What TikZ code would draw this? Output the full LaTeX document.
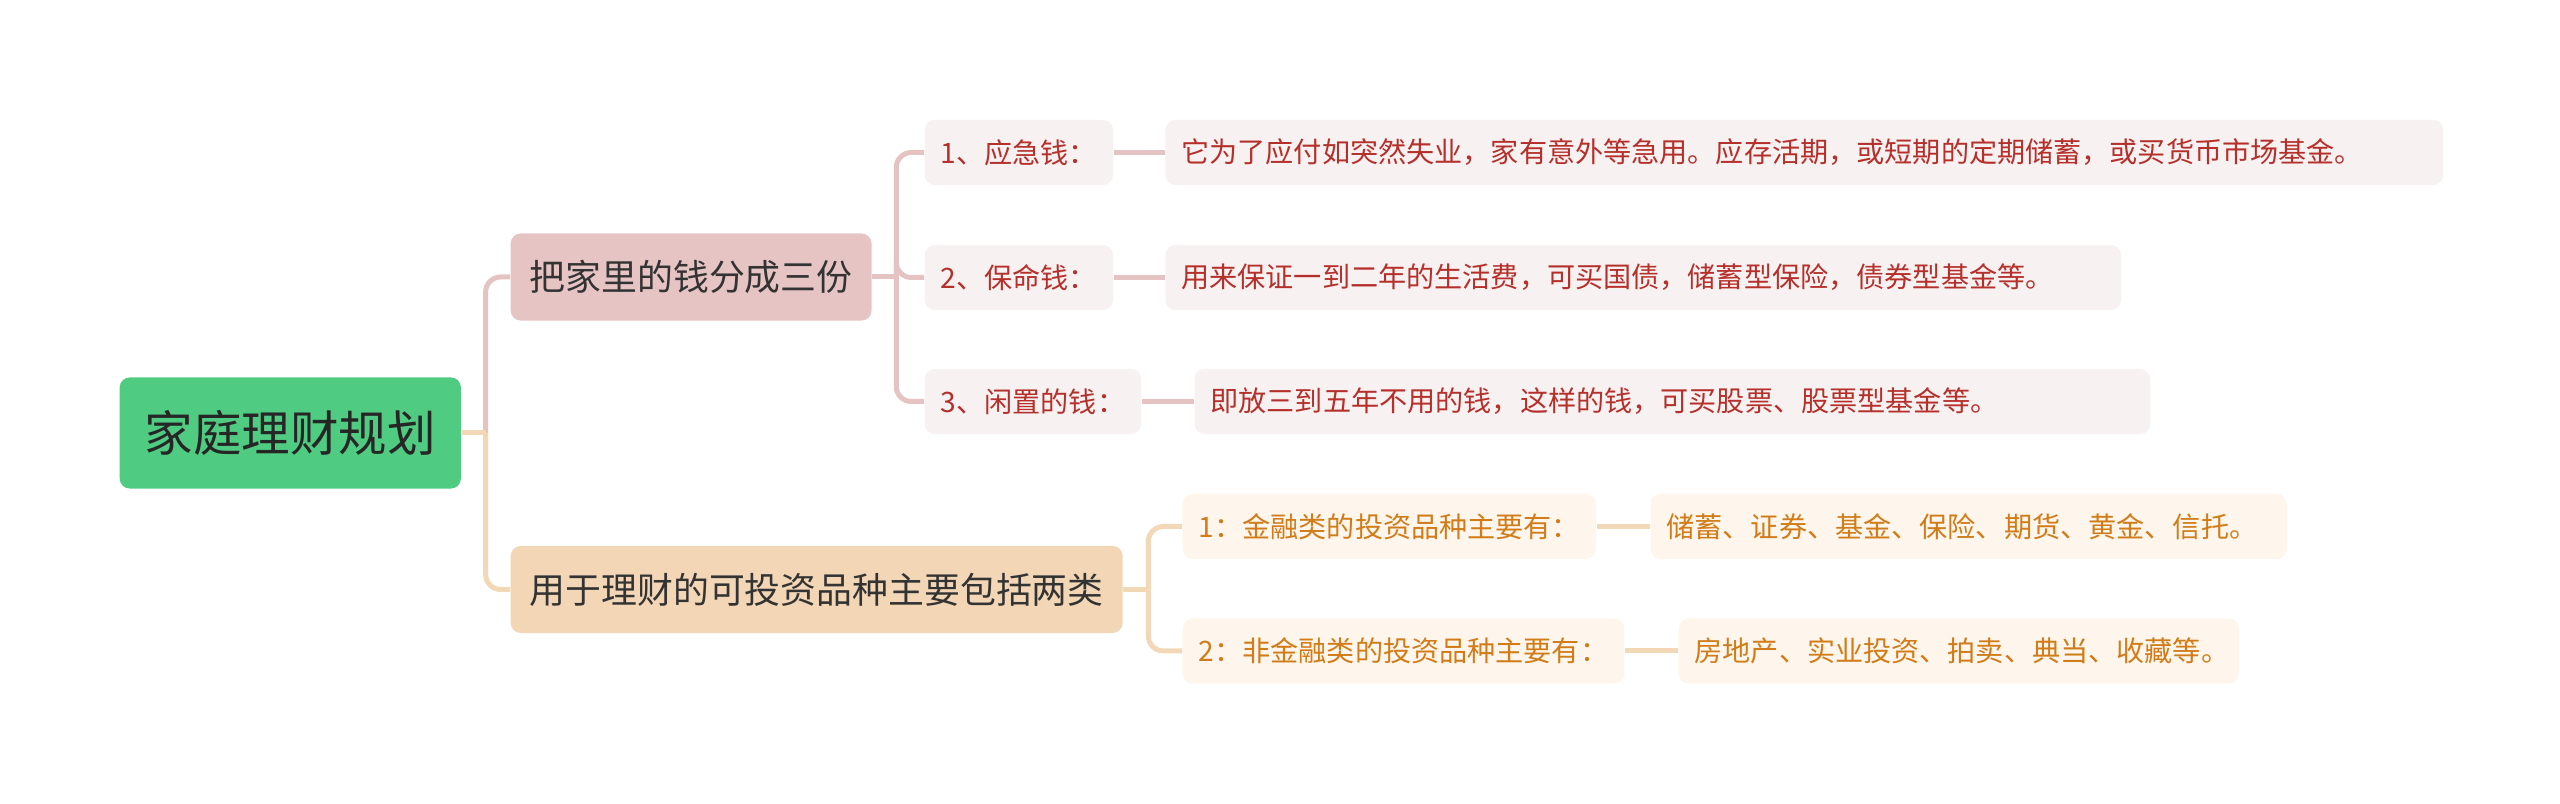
\documentclass[tikz,border=0pt]{standalone}
\usepackage{fontspec}
\setmainfont{Noto Sans CJK SC}
\usepackage{xcolor}
\usetikzlibrary{positioning,calc}
\definecolor{rootgreen}{HTML}{50CB82}
\definecolor{pinkfill}{HTML}{E7C4C4}
\definecolor{peachfill}{HTML}{F2D6B6}
\definecolor{pinklight}{HTML}{F8F1F1}
\definecolor{peachlight}{HTML}{FEF6EC}
\definecolor{redtext}{HTML}{B5302B}
\definecolor{orangetext}{HTML}{D17C18}
\definecolor{pinkline}{HTML}{E6C3C3}
\definecolor{peachline}{HTML}{F3D8B8}

\begin{document}
\begin{tikzpicture}[x=0.01cm,y=-0.01cm,
  rootbox/.style={fill=rootgreen,rounded corners=0.1cm,anchor=west,inner xsep=0.25cm,
    minimum height=1.11cm,text=black!85,font=\fontsize{13.8}{16}\selectfont},
  topic/.style={rounded corners=0.1cm,anchor=west,inner xsep=0.19cm,minimum height=0.87cm,
    text=black!80,font=\fontsize{10.2}{12}\selectfont},
  sub/.style={rounded corners=0.1cm,anchor=west,inner xsep=0.16cm,minimum height=0.65cm,
    align=left,font=\fontsize{8}{10}\selectfont},
  subR/.style={sub,fill=pinklight,text=redtext},
  subO/.style={sub,fill=peachlight,text=orangetext},
  linkR/.style={draw=pinkline,line width=0.05cm,rounded corners=0.15cm},
  linkO/.style={draw=peachline,line width=0.05cm,rounded corners=0.15cm}]
  \useasboundingbox (0,0) rectangle (2560,804);
  \node[rootbox] (root) at (119,433) {家庭理财规划};
  \node[topic,fill=pinkfill] (sav) at (510,277) {把家里的钱分成三份};
  \node[topic,fill=peachfill] (inv) at (510,589.5) {用于理财的可投资品种主要包括两类};
  \node[subR] (s1) at (924,152.5) {1、应急钱：};
  \node[subR] (s2) at (924,277.5) {2、保命钱：};
  \node[subR] (s3) at (924,401.5) {3、闲置的钱：};
  \node[subR,text width=12.45cm,right=0.51cm of s1] (l1)
    {它为了应付如突然失业，家有意外等急用。应存活期，或短期的定期储蓄，或买货币市场基金。};
  \node[subR,text width=9.23cm,right=0.51cm of s2] (l2)
    {用来保证一到二年的生活费，可买国债，储蓄型保险，债券型基金等。};
  \node[subR,text width=9.23cm,right=0.52cm of s3] (l3)
    {即放三到五年不用的钱，这样的钱，可买股票、股票型基金等。};
  \node[subO] (o1) at (1182,526.5) {1：金融类的投资品种主要有：};
  \node[subO] (o2) at (1182,651) {2：非金融类的投资品种主要有：};
  \node[subO,text width=6.04cm,right=0.53cm of o1] (p1) {储蓄、证券、基金、保险、期货、黄金、信托。};
  \node[subO,text width=5.28cm,right=0.53cm of o2] (p2) {房地产、实业投资、拍卖、典当、收藏等。};
  \coordinate (j0) at ($(root.east)+(24,0)$);
  \coordinate (j1) at ($(sav.east)+(24,0)$);
  \coordinate (j2) at ($(inv.east)+(25,0)$);
  \draw[linkR] (j0) |- (sav.west);
  \draw[linkO] (j0) |- (inv.west);
  \draw[linkO] (root.east) -- (j0);
  \draw[linkR] (sav.east) -- (j1);
  \foreach \n in {s1,s2,s3} \draw[linkR] (j1) |- (\n.west);
  \draw[linkR] (s1) -- (l1);
  \draw[linkR] (s2) -- (l2);
  \draw[linkR] (s3) -- (l3);
  \draw[linkO] (inv.east) -- (j2);
  \draw[linkO] (j2) |- (o1.west);
  \draw[linkO] (j2) |- (o2.west);
  \draw[linkO] (o1) -- (p1);
  \draw[linkO] (o2) -- (p2);
\end{tikzpicture}
\end{document}
